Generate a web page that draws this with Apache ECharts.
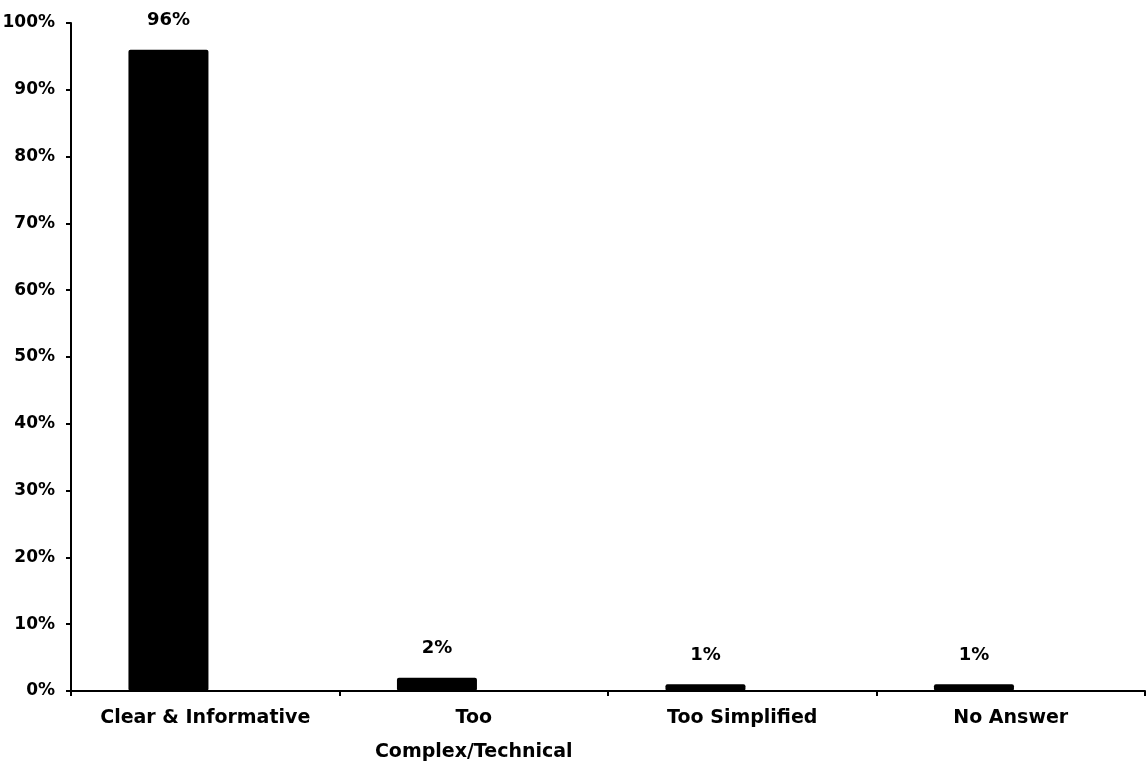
<!DOCTYPE html>
<html>
<head>
<meta charset="utf-8">
<script src="https://cdn.jsdelivr.net/npm/echarts@6/dist/echarts.min.js"></script>
<style>
  html, body { margin: 0; padding: 0; background: #fff; overflow: hidden; }
  #chart { width: 1147px; height: 762px; }
</style>
</head>
<body>
<div id="chart"></div>
<script>
// Survey responses: how the material was perceived
const categories = ['Clear & Informative', 'Too\nComplex/Technical', 'Too Simplified', 'No Answer'];
const shares = [96, 2, 1, 1];
const yTicks = { min: 0, max: 100, interval: 10 };

const font = '"DejaVu Sans", "Liberation Sans", Arial, sans-serif';
const chart = echarts.init(document.getElementById('chart'), null, { renderer: 'canvas' });

chart.setOption({
  backgroundColor: '#fff',
  animation: false,
  grid: {
    left: 71, right: 2, top: 23, bottom: 71,
    containLabel: false, outerBoundsMode: 'none'
  },
  xAxis: {
    type: 'category',
    data: categories,
    axisLine: { lineStyle: { color: '#000', width: 2 } },
    axisTick: { show: true, length: 5, lineStyle: { color: '#000', width: 2 } },
    axisLabel: {
      color: '#000', fontFamily: font, fontWeight: 'bold', fontSize: 19,
      margin: 10, lineHeight: 34, interval: 0
    }
  },
  yAxis: {
    type: 'value',
    min: yTicks.min, max: yTicks.max, interval: yTicks.interval,
    axisLine: { show: true, lineStyle: { color: '#000', width: 2 } },
    axisTick: { show: true, length: 5, lineStyle: { color: '#000', width: 2 } },
    splitLine: { show: false },
    axisLabel: {
      color: '#000', fontFamily: font, fontWeight: 'bold', fontSize: 17,
      margin: 16, padding: [0, 0, 7, 0], formatter: '{value}%'
    }
  },
  series: [
    {
      type: 'bar',
      data: shares,
      barWidth: 80,
      barGap: '-8%',
      itemStyle: { color: '#000', borderRadius: 2 },
      label: {
        show: true, position: 'top', distance: 20,
        color: '#000', fontFamily: font, fontWeight: 'bold', fontSize: 18,
        formatter: '{c}%'
      }
    },
    {
      // empty companion series keeps the bars left of each category centre
      type: 'bar',
      data: shares.map(() => null),
      barWidth: 80,
      itemStyle: { color: '#000' }
    }
  ]
});
</script>
</body>
</html>
